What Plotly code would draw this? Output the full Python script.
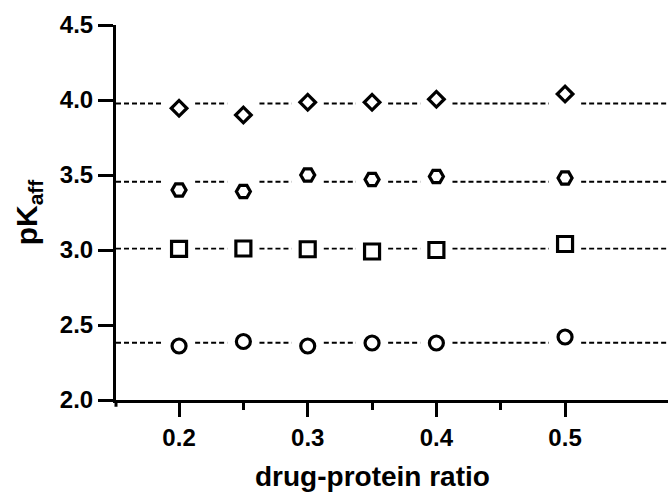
import numpy as np
import plotly.graph_objects as go

ratio = [0.2, 0.25, 0.3, 0.35, 0.4, 0.5]
diamond_vals = [3.945, 3.90, 3.985, 3.985, 4.005, 4.04]
hexagon_vals = [3.40, 3.39, 3.50, 3.47, 3.49, 3.48]
square_vals = [3.007, 3.01, 3.005, 2.99, 3.00, 3.04]
circle_vals = [2.36, 2.39, 2.36, 2.38, 2.38, 2.42]
x_range = [0.151, 0.58]
y_range = [2.0, 4.5]
y_ticks = [2.0, 2.5, 3.0, 3.5, 4.0, 4.5]
x_ticks = [0.2, 0.3, 0.4, 0.5]
x_minor_ticks = [0.25, 0.35, 0.45]

series = [
    (diamond_vals, "diamond", 12),
    (hexagon_vals, "hexagon2", 14),
    (square_vals, "square", 15),
    (circle_vals, "circle", 14),
]

GAP = 0.0125
FONT = "Liberation Sans, Arial, Helvetica, sans-serif"

fig = go.Figure()

for vals, sym, size in series:
    level = float(np.mean(vals))
    xs, ys = [], []
    bounds = [x_range[0]] + ratio + [x_range[1]]
    for i in range(len(bounds) - 1):
        a, b = bounds[i], bounds[i + 1]
        a2 = a if i == 0 else a + GAP
        b2 = b if i == len(bounds) - 2 else b - GAP
        xs += [a2, b2, None]
        ys += [level, level, None]
    fig.add_trace(go.Scatter(x=xs, y=ys, mode="lines",
                             line=dict(color="black", width=1.8, dash="5px,3px"),
                             hoverinfo="skip", showlegend=False, cliponaxis=False))
    fig.add_trace(go.Scatter(x=ratio, y=vals, mode="markers",
                             marker=dict(symbol=sym, size=size, color="white",
                                         line=dict(color="black", width=3.2)),
                             showlegend=False, cliponaxis=False))

axis_common = dict(showgrid=False, zeroline=False, showline=True, linecolor="black",
                   linewidth=3, ticks="outside", tickcolor="black", tickwidth=3,
                   tickfont=dict(family=FONT, size=24, color="black", weight="bold"))

fig.update_layout(
    width=668, height=497,
    margin=dict(l=116, r=0, t=25, b=97),
    plot_bgcolor="white", paper_bgcolor="white",
    xaxis=dict(range=x_range, tickvals=x_ticks, ticktext=[f"{v:.1f}" for v in x_ticks],
               ticklen=14,
               minor=dict(tickvals=x_minor_ticks, ticklen=7, tickwidth=3,
                          tickcolor="black", ticks="outside"),
               **axis_common),
    yaxis=dict(range=y_range, tickvals=y_ticks, ticktext=[f"{v:.1f}" for v in y_ticks],
               ticklen=15,
               title=dict(text="pK<sub>aff</sub>", standoff=14,
                          font=dict(family=FONT, size=30, color="black", weight="bold")),
               **axis_common),
    annotations=[dict(text="drug-protein ratio", x=0.35, xref="x", y=-0.205, yref="paper",
                      xanchor="center", yanchor="middle", showarrow=False,
                      font=dict(family=FONT, size=28, color="black", weight="bold"))],
    shapes=[dict(type="line", xref="paper", yref="paper", x0=0, x1=0, y0=0, y1=-0.018,
                 line=dict(color="black", width=3))],
)

fig.write_html("out.html")
